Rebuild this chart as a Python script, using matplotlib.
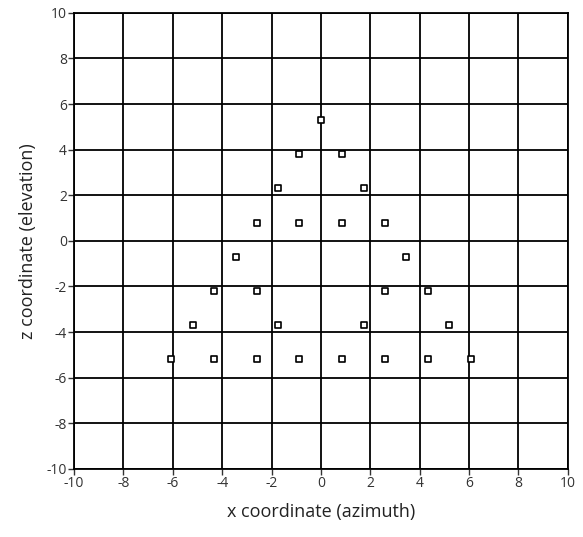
import matplotlib
matplotlib.use('Agg')
import matplotlib.pyplot as plt

# speaker positions: azimuth (x) and elevation (z)
x_vals = [0.0,
          -0.87, 0.87,
          -1.73, 1.73,
          -2.6, -0.87, 0.87, 2.6,
          -3.46, 3.46,
          -4.33, -2.6, 2.6, 4.33,
          -5.2, -1.73, 1.73, 5.2,
          -6.06, -4.33, -2.6, -0.87, 0.87, 2.6, 4.33, 6.06]
z_vals = [5.3,
          3.8, 3.8,
          2.3, 2.3,
          0.8, 0.8, 0.8, 0.8,
          -0.7, -0.7,
          -2.2, -2.2, -2.2, -2.2,
          -3.7, -3.7, -3.7, -3.7,
          -5.2, -5.2, -5.2, -5.2, -5.2, -5.2, -5.2, -5.2]
ticks = list(range(-10, 11, 2))

plt.rcParams['font.family'] = ['Open Sans', 'DejaVu Sans']
plt.rcParams['axes.unicode_minus'] = False

fig = plt.figure(figsize=(5.83, 5.37), dpi=100)
ax = fig.add_axes([0.127, 0.127, 0.847, 0.849])

ax.scatter(x_vals, z_vals, marker='s', s=22, facecolors='white',
           edgecolors='black', linewidths=1.2, zorder=3)

ax.set_xlim(-10, 10)
ax.set_ylim(-10, 10)
ax.set_xticks(ticks)
ax.set_yticks(ticks)
ax.grid(True, color='black', linewidth=1.3)
ax.set_axisbelow(True)
for s in ax.spines.values():
    s.set_color('black')
    s.set_linewidth(1.3)
ax.tick_params(direction='out', length=4, width=1, colors='#333333',
               labelsize=10, pad=1)

ax.set_xlabel('x coordinate (azimuth)', fontsize=13, color='#222222', labelpad=9)
ax.set_ylabel('z coordinate (elevation)', fontsize=13, color='#222222', labelpad=7)

fig.savefig('out.png', dpi=100)
